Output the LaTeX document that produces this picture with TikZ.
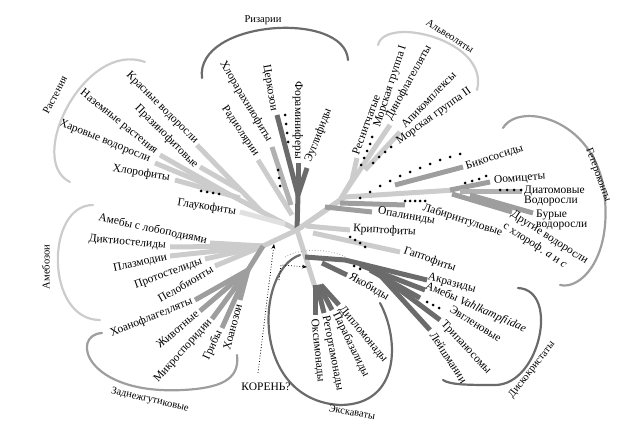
\documentclass[tikz,border=0pt]{standalone}
\usepackage{fontspec}
\setmainfont{Liberation Serif}
\usetikzlibrary{arrows.meta}
\begin{document}
\begin{tikzpicture}[x=1pt,y=-1pt,
  lab/.style={font=\fontsize{11.5}{13}\selectfont,inner sep=1pt},
  grp/.style={font=\fontsize{10.5}{12}\selectfont,inner sep=1pt},
  br/.style={line width=5pt,line cap=butt},
  arcl/.style={line width=2.2pt,line cap=round},
  dt/.style={fill=black},
]
\definecolor{cA}{gray}{0.80}
\definecolor{cB}{gray}{0.62}
\definecolor{cC}{gray}{0.42}
\useasboundingbox (0,0) rectangle (622,433);
\newcommand\lbl[5]{\node[lab,rotate=#3,anchor=#4] (#1) at (#2) {#5};}
\newcommand\dotrow[1]{\foreach \p in {#1} \fill[dt] \p circle (1.5);}
% ---------- Plants
\draw[br,cA] (297,230)--(262,212);
\draw[br,cA] (262,212)--(197,145);
\draw[br,cA] (240,190)--(200,167);
\draw[br,cA] (262,212)--(225,192);
\draw[br,cA] (225,192)--(160,155);
\draw[br,cA] (225,192)--(155,163);
\draw[br,cA] (240,198)--(175,180);
\draw[br,cA!60] (285,224)--(240,212);
\dotrow{(201,191),(207,192),(213,193),(219,194)}
\lbl{kr}{197,143}{-45}{east}{Красные водоросли}
\lbl{pr}{197,167}{-45}{east}{Празинофитовые}
\lbl{nz}{157,153}{-39}{east}{Наземные растения}
\lbl{hr}{151,160}{-22}{east}{Харовые водоросли}
\lbl{hl}{171,178}{-9}{east}{Хлорофиты}
\lbl{gl}{237,212}{-9}{east}{Глаукофиты}
\draw[arcl,cA] (145,62) .. controls (85,40) and (25,160) .. (70,182);
\node[grp,rotate=62] (plants) at (55,95) {Растения};
% ---------- Rhizaria
\draw[br,cC] (297,230)--(298,195);
\draw[br,cC] (298,195)--(298,163);
\draw[br,cC] (298,195)--(277,115);
\draw[br,cC] (298,195)--(307,168);
\draw[br,cA] (292,215)--(258,160);
\draw[br,cB!80] (291,205)--(272,147);
\dotrow{(285,115),(286,124),(287,133),(288,142),(278,170),(279,178),(280,186)}
\lbl{rad}{257,156}{-56}{east}{Радиолярии}
\lbl{hlr}{270,142}{-59}{east}{Хлорарахниофиты}
\lbl{cer}{274,112}{-80}{east}{Церкозои}
\lbl{for}{298,160}{-90}{east}{Фораминиферы}
\lbl{eug}{308,163}{69}{west}{Эуглифиды}
\draw[arcl,cC] (202,78) .. controls (195,20) and (345,10) .. (348,60);
\node[grp] (rhiz) at (263,20) {Ризарии};
% ---------- Alveolates
\draw[br,cA] (297,230)--(340,200)--(352,180)--(357,158);
\draw[br,cA] (345,192)--(390,125);
\draw[br,cA] (365,170)--(400,132);
\dotrow{(361,165),(364,158),(367,151),(370,144),(372,137),(373,163),(379,157),(385,152),(391,147)}
\lbl{res}{355,155}{70}{west}{Реснитчатые}
\lbl{mg1}{377,128}{72}{west}{Морская группа I}
\lbl{din}{388,120}{61}{west}{Динофлагелляты}
\lbl{api}{402,127}{46}{west}{Апикомплексы}
\lbl{mg2}{397,143}{36}{west}{Морская группа II}
\draw[arcl,cA] (378,45) .. controls (385,15) and (490,40) .. (477,90);
\node[grp,rotate=-32] (alv) at (450,36) {Альвеоляты};
% ---------- Heterokonts
\draw[br,cA] (297,230)--(345,197)--(455,190);
\draw[br,cB] (395,185)--(463,167);
\dotrow{(360,198),(370,192),(380,186),(390,181),(400,176),(410,172),(420,168),(430,164),(440,160),(450,157),(460,154)}
\draw[br,cB] (450,190)--(490,182);
\dotrow{(465,183),(472,181),(479,179),(486,176)}
\draw[br,cB!80] (460,192)--(522,192);
\dotrow{(500,190),(507,190),(514,190),(521,190)}
\draw[br,cB] (470,195)--(533,213);
\draw[br,cB] (452,194)--(512,212);
\draw[br,cB] (340,203)--(405,205);
\dotrow{(405,201),(410,201),(415,201),(420,201),(425,201)}
\draw[br,cB] (325,207)--(372,212);
\lbl{bik}{465,167}{18}{west}{Бикососиды}
\lbl{oom}{493,181}{5}{west}{Оомицеты}
\node[lab,anchor=west,align=left] (dia) at (523,196) {Диатомовые\\[-3pt]Водоросли};
\node[lab,anchor=west,align=left] (bur) at (535,220) {Бурые\\[-3pt]водоросли};
\lbl{dr}{511,213}{-33}{west}{Другие водоросли}
\lbl{drc}{503,225}{-33}{west}{с хлороф. \textit{а} и \textit{с}}
\lbl{lab}{422,207}{-18}{west}{Лабиринтуловые}
\lbl{opa}{377,211}{-10}{west}{Опалиниды}
\draw[arcl,cB] (503,128) .. controls (520,100) and (600,120) .. (605,200) .. controls (610,260) and (580,290) .. (560,285);
\node[grp,rotate=-70] (het) at (598,175) {Гетероконты};
% ---------- Crypto / Hapto
\draw[br,cA] (306,226)--(350,230);
\draw[br,cA] (313,233)--(400,252);
\dotrow{(350,237),(355,240),(360,243),(365,247)}
\lbl{kri}{352,229}{-3}{west}{Криптофиты}
\lbl{gap}{403,250}{-20}{west}{Гаптофиты}
% ---------- Excavates
\draw[br,cA] (297,230)--(315,287);
\draw[br,cC] (315,285)--(315,315);
\draw[br,cC] (317,285)--(324,313);
\draw[br,cC] (319,285)--(332,310);
\draw[br,cC] (321,285)--(339,305);
\draw[br,cC] (322,263)--(347,275);
\dotrow{(354,266),(360,269)}
\lbl{oks}{314,318}{-84}{west}{Оксимонады}
\lbl{ret}{325,315}{-79}{west}{Ретортамонады}
\lbl{par}{335,312}{-64}{west}{Парабазалиды}
\lbl{dip}{340,307}{-50}{west}{Дипломонады}
\lbl{yak}{349,275}{-30}{west}{Якобиды}
\draw[arcl,cC] (300,255) .. controls (255,270) and (250,400) .. (340,405) .. controls (400,405) and (400,340) .. (380,303);
\node[grp,rotate=-10] (exc) at (352,412) {Экскаваты};
% ---------- Discicristates
\draw[br,cC] (305,257)--(345,260)--(427,280);
\draw[br,cC] (360,265)--(425,290);
\draw[br,cC] (370,270)--(420,298);
\dotrow{(427,302),(433,305),(439,308)}
\draw[br,cC] (380,275)--(440,320);
\draw[br,cC] (380,275)--(430,330);
\lbl{akr}{427,277}{-15}{west}{Акразиды}
\lbl{ame}{425,285}{-24}{west}{Амебы \textit{Vahlkampfiidae}}
\lbl{evg}{450,308}{-32}{west}{Эвгленовые}
\lbl{tri}{442,322}{-47}{west}{Трипаносомы}
\lbl{lei}{432,332}{-57}{west}{Лейшмании}
\draw[arcl,cC] (518,288) .. controls (560,290) and (540,385) .. (495,385) .. controls (470,385) and (450,385) .. (443,380);
\node[grp,rotate=52] (dis) at (532,370) {Дискокристаты};
% ---------- Amoebozoa
\draw[br,cA] (297,230)--(263,246);
\draw[br,cA] (263,246)--(210,243);
\draw[br,cA] (263,246)--(170,247);
\draw[br,cA] (263,246)--(170,256);
\draw[br,cA] (263,246)--(205,259);
\draw[br,cA] (263,246)--(215,266);
\lbl{amb}{208,241}{-12}{east}{Амебы с лобоподиями}
\lbl{dik}{167,246}{-5}{east}{Диктиостелиды}
\lbl{pla}{168,257}{12}{east}{Плазмодии}
\lbl{pro}{203,261}{20}{east}{Протостелиды}
\lbl{pel}{213,268}{30}{east}{Пелобионты}
\draw[arcl,cA] (93,205) .. controls (45,205) and (45,320) .. (100,320);
\node[grp,rotate=90] (amz) at (46,267) {Амебозои};
% ---------- Opisthokonts
\draw[br,cB] (263,246)--(248,270);
\draw[br,cB] (248,270)--(195,300);
\draw[br,cB] (248,270)--(200,311);
\draw[br,cB] (248,270)--(212,319);
\draw[br,cB] (248,270)--(222,328);
\draw[br,cB] (248,270)--(240,300);
\lbl{hoa}{193,301}{22}{east}{Хоанофлагелляты}
\lbl{jiv}{198,312}{40}{east}{Животные}
\lbl{mik}{211,320}{48}{east}{Микроспоридии}
\lbl{gri}{220,330}{65}{east}{Грибы}
\lbl{hoz}{239,303}{75}{east}{Хоанозои}
\draw[arcl,cB] (102,333) .. controls (70,335) and (85,395) .. (183,390) .. controls (220,388) and (240,380) .. (237,355);
\node[grp,rotate=-13] (zad) at (150,400) {Заднежгутиковые};
% ---------- Root
\node[lab] (root) at (266,387) {КОРЕНЬ?};
\coordinate (r1) at (258,373);
\coordinate (r2) at (274,244);
\draw[dotted,thick,-{Stealth[length=5pt]}] (r1) -- (r2);
\draw[dotted,thick,-{Stealth[length=5pt]}] (279,280) -- (281,265) -- (307,267);
\draw[dotted,thick,cB] (285,257) .. controls (300,248) and (330,248) .. (347,258);
\end{tikzpicture}
\end{document}
